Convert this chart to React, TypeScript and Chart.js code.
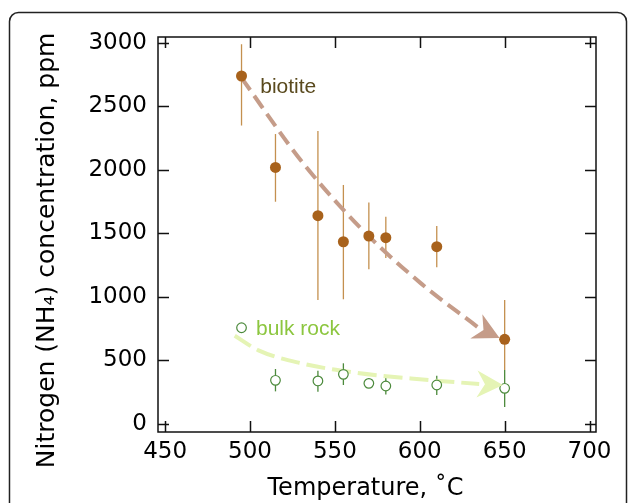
import { useEffect, useRef } from "react";
import { Chart, registerables } from "chart.js";

Chart.register(...registerables);

// ---- data ----
const temperatures = [495, 515, 540, 555, 570, 580, 610, 650];
const biotiteN = [2740, 2020, 1640, 1435, 1480, 1467, 1396, 667];
const biotiteErrLow = [2350, 1750, 976, 982, 1218, 1307, 1234, 425];
const biotiteErrHigh = [2990, 2283, 2307, 1882, 1743, 1632, 1559, 976];
const bulkN = [758, 344, 339, 391, 320, 299, 307, 281];
const bulkErrLow: (number | null)[] = [null, 257, 254, 307, null, 233, 228, 134];
const bulkErrHigh: (number | null)[] = [null, 433, 420, 478, null, 365, 380, 425];

const biotiteTrendX = [495, 530, 565, 600, 634];
const biotiteTrendY = [2725, 2075, 1545, 1115, 764];
const biotiteArrowTip = [647, 677];
const bulkTrendX = [491, 505, 530, 560, 600, 635];
const bulkTrendY = [695, 580, 478, 408, 352, 315];
const bulkArrowTip = [649, 307];

const seriesLabels = ["biotite", "bulk rock"];
const seriesLabelX = [506, 503.5];
const seriesLabelY = [2609, 701];

const xTicks = [450, 500, 550, 600, 650, 700];
const yTicks = [0, 500, 1000, 1500, 2000, 2500, 3000];

const BIOTITE = "#a8621c";
const BIOTITE_ERR = "#c4904f";
const BULK = "#4c8a3c";
const BIOTITE_TREND = "#c59c89";
const BULK_TREND = "#e5f4b5";

const framePlugin = {
  id: "frame",
  beforeDraw(chart: any) {
    const ctx = chart.ctx;
    ctx.save();
    ctx.fillStyle = "#fff";
    ctx.fillRect(0, 0, chart.width, chart.height);
    ctx.strokeStyle = "#222";
    ctx.lineWidth = 1.5;
    ctx.beginPath();
    ctx.roundRect(9.5, 12.5, 617, 530, 9);
    ctx.stroke();
    ctx.restore();
  },
};

const errorBarPlugin = {
  id: "errorBars",
  beforeDatasetsDraw(chart: any) {
    const ctx = chart.ctx;
    const xs = chart.scales.x;
    const ys = chart.scales.y;
    ctx.save();
    ctx.lineWidth = 1.3;
    temperatures.forEach((t, i) => {
      const px = xs.getPixelForValue(t);
      ctx.strokeStyle = BIOTITE_ERR;
      ctx.beginPath();
      ctx.moveTo(px, ys.getPixelForValue(biotiteErrLow[i]));
      ctx.lineTo(px, ys.getPixelForValue(biotiteErrHigh[i]));
      ctx.stroke();
    });
    temperatures.forEach((t, i) => {
      const lo = bulkErrLow[i];
      const hi = bulkErrHigh[i];
      if (lo == null || hi == null) return;
      const px = xs.getPixelForValue(t);
      ctx.strokeStyle = BULK;
      ctx.beginPath();
      ctx.moveTo(px, ys.getPixelForValue(lo));
      ctx.lineTo(px, ys.getPixelForValue(hi));
      ctx.stroke();
    });
    ctx.restore();
  },
};

function drawArrowHead(ctx: CanvasRenderingContext2D, fx: number, fy: number, tx: number, ty: number, color: string) {
  const ang = Math.atan2(ty - fy, tx - fx);
  const L = 26;
  const W = 13.5;
  const N = 8;
  ctx.save();
  ctx.translate(tx, ty);
  ctx.rotate(ang);
  ctx.fillStyle = color;
  ctx.beginPath();
  ctx.moveTo(0, 0);
  ctx.lineTo(-L, -W);
  ctx.lineTo(-L + N, 0);
  ctx.lineTo(-L, W);
  ctx.closePath();
  ctx.fill();
  ctx.restore();
}

const overlayPlugin = {
  id: "overlay",
  afterDatasetsDraw(chart: any) {
    const ctx = chart.ctx;
    const xs = chart.scales.x;
    const ys = chart.scales.y;
    const { left, right, top, bottom } = chart.chartArea;

    const bi = biotiteTrendX.length - 1;
    drawArrowHead(
      ctx,
      xs.getPixelForValue(biotiteTrendX[bi]),
      ys.getPixelForValue(biotiteTrendY[bi]),
      xs.getPixelForValue(biotiteArrowTip[0]),
      ys.getPixelForValue(biotiteArrowTip[1]),
      BIOTITE_TREND
    );
    const gi = bulkTrendX.length - 1;
    drawArrowHead(
      ctx,
      xs.getPixelForValue(bulkTrendX[gi]),
      ys.getPixelForValue(bulkTrendY[gi]),
      xs.getPixelForValue(bulkArrowTip[0]),
      ys.getPixelForValue(bulkArrowTip[1]),
      BULK_TREND
    );

    ctx.save();
    ctx.font = '21px "Liberation Sans", Arial, sans-serif';
    ctx.textAlign = "left";
    ctx.textBaseline = "alphabetic";
    const colors = ["#5a4a1e", "#8cc63f"];
    seriesLabels.forEach((s, i) => {
      ctx.fillStyle = colors[i];
      ctx.fillText(s, xs.getPixelForValue(seriesLabelX[i]), ys.getPixelForValue(seriesLabelY[i]));
    });
    ctx.restore();

    ctx.save();
    ctx.strokeStyle = "#111";
    ctx.lineWidth = 1.5;
    ctx.strokeRect(left, top, right - left, bottom - top);
    const T = 11;
    ctx.beginPath();
    xTicks.forEach((v) => {
      const px = Math.round(xs.getPixelForValue(v)) + 0.5;
      ctx.moveTo(px, bottom);
      ctx.lineTo(px, bottom - T);
      ctx.moveTo(px, top);
      ctx.lineTo(px, top + T);
    });
    yTicks.forEach((v) => {
      const py = Math.round(ys.getPixelForValue(v)) + 0.5;
      ctx.moveTo(left, py);
      ctx.lineTo(left + T, py);
      ctx.moveTo(right, py);
      ctx.lineTo(right - T, py);
    });
    ctx.stroke();
    ctx.restore();
  },
};

export default function App() {
  const ref = useRef<HTMLCanvasElement | null>(null);

  useEffect(() => {
    if (!ref.current) return;
    const tickFont = { family: '"DejaVu Sans", sans-serif', size: 23 };
    const chart = new Chart(ref.current, {
      type: "scatter",
      data: {
        datasets: [
          {
            type: "scatter",
            label: "biotite",
            data: temperatures.map((t, i) => ({ x: t, y: biotiteN[i] })),
            pointRadius: 5.5,
            pointHoverRadius: 5.5,
            backgroundColor: BIOTITE,
            borderColor: BIOTITE,
            borderWidth: 0,
            order: 0,
          },
          {
            type: "scatter",
            label: "bulk rock",
            data: temperatures.map((t, i) => ({ x: t, y: bulkN[i] })),
            pointRadius: 4.8,
            pointHoverRadius: 4.8,
            backgroundColor: "#ffffff",
            borderColor: BULK,
            borderWidth: 1.2,
            order: 0,
          },
          {
            type: "line",
            label: "biotite trend",
            data: biotiteTrendX.map((x, i) => ({ x, y: biotiteTrendY[i] })),
            borderColor: BIOTITE_TREND,
            borderWidth: 4,
            borderDash: [15, 7],
            pointRadius: 0,
            cubicInterpolationMode: "monotone",
            fill: false,
            order: 1,
          },
          {
            type: "line",
            label: "bulk rock trend",
            data: bulkTrendX.map((x, i) => ({ x, y: bulkTrendY[i] })),
            borderColor: BULK_TREND,
            borderWidth: 4,
            borderDash: [19, 7],
            pointRadius: 0,
            cubicInterpolationMode: "monotone",
            fill: false,
            order: 1,
          },
        ] as any,
      },
      options: {
        animation: false,
        responsive: false,
        devicePixelRatio: 1,
        layout: { padding: { left: 0, top: 37, right: 33, bottom: 0 } },
        plugins: { legend: { display: false }, tooltip: { enabled: false } },
        scales: {
          x: {
            type: "linear",
            min: 445.8,
            max: 703.8,
            afterBuildTicks: (s: any) => {
              s.ticks = xTicks.map((value) => ({ value }));
            },
            afterFit: (s: any) => {
              s.height = 71;
            },
            grid: { display: false, drawTicks: false },
            border: { display: false },
            ticks: {
              font: tickFont,
              color: "#000",
              padding: 6,
              maxRotation: 0,
              callback: (v: any) => String(v),
            },
            title: {
              display: true,
              text: "Temperature, ˚C\u00A0\u00A0\u00A0",
              font: { family: '"DejaVu Sans", sans-serif', size: 24 },
              color: "#000",
              padding: { top: 0, bottom: 0 },
            },
          },
          y: {
            type: "linear",
            min: -63,
            max: 3047,
            afterBuildTicks: (s: any) => {
              s.ticks = yTicks.map((value) => ({ value }));
            },
            afterFit: (s: any) => {
              s.width = 158;
            },
            grid: { display: false, drawTicks: false },
            border: { display: false },
            ticks: {
              font: tickFont,
              color: "#000",
              padding: 11,
              callback: (v: any) => String(v),
            },
            title: {
              display: true,
              text: "Nitrogen (NH₄) concentration, ppm\u00A0\u00A0\u00A0\u00A0",
              font: { family: '"DejaVu Sans", sans-serif', size: 25 },
              color: "#000",
              padding: { top: 32, bottom: 0 },
            },
          },
        },
      },
      plugins: [framePlugin, errorBarPlugin, overlayPlugin],
    });
    return () => chart.destroy();
  }, []);

  return (
    <div style={{ position: "absolute", left: 0, top: 0, width: 629, height: 503 }}>
      <canvas ref={ref} width={629} height={503} />
    </div>
  );
}
